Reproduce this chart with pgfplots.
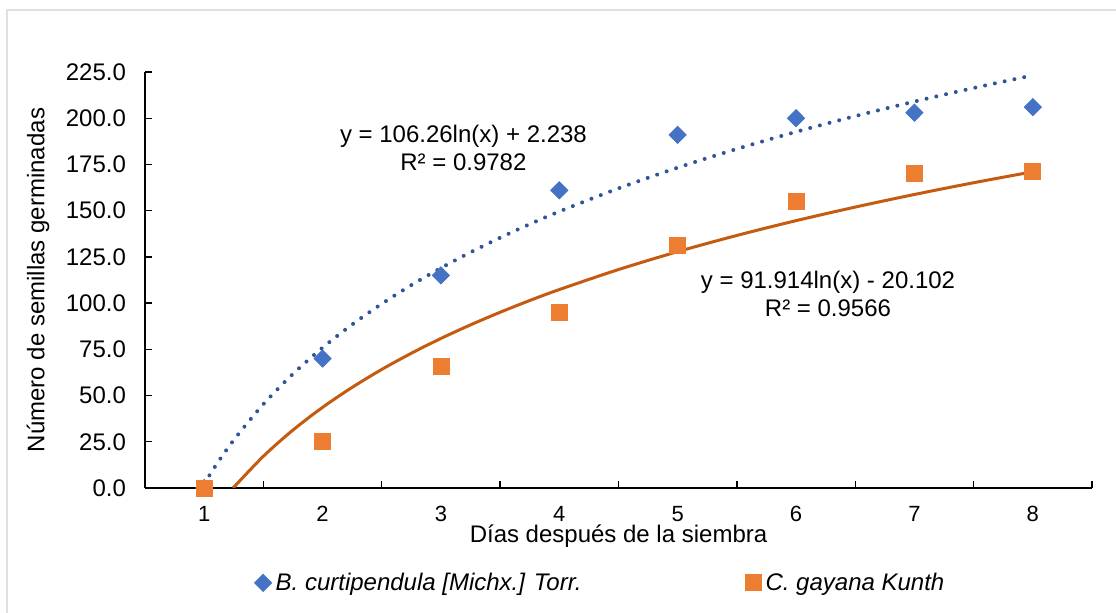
\documentclass[border=0pt]{standalone}
\usepackage{pgfplots}
\pgfplotsset{compat=1.18}
\usepackage{fontspec}
\setmainfont{Liberation Sans}

\definecolor{bluemark}{HTML}{4472C4}
\definecolor{bluetrend}{HTML}{2F5597}
\definecolor{orangemark}{HTML}{ED7D31}
\definecolor{orangetrend}{HTML}{C55A11}

\begin{document}
\begin{tikzpicture}
	% picture frame (1 px = 0.5 pt)
	\path[use as bounding box] (-72.5pt,-62.5pt) rectangle (485.5pt,244pt);
	\draw[black!12, line width=1.2pt] (-69pt,-62.5pt) -- (-69pt,239pt) -- (485.5pt,239pt);
	\begin{axis}[
	at={(0,0)}, anchor=origin,
	scale only axis,
	width=473.5pt, height=208pt,
	font=\fontsize{12}{14}\selectfont,
	axis x line=bottom, axis y line=left,
	axis line style={-, line width=0.8pt},
	xmin=0.5, xmax=8.5,
	ymin=0, ymax=225,
	xtick={1,...,8},
	major x tick style={draw=none},
	minor xtick={0.5,1.5,...,8.5},
	minor tick length=3.5pt,
	ytick={0,25,...,225},
	major tick length=3.5pt,
	tick align=inside,
	tick style={black, line width=0.7pt},
	/pgf/number format/assume math mode=true,
	yticklabel style={/pgf/number format/fixed, /pgf/number format/fixed zerofill,
		/pgf/number format/precision=1, xshift=-6pt},
	xticklabel style={yshift=-5.5pt, font=\fontsize{11}{13}\selectfont},
	xlabel={Días después de la siembra},
	ylabel={Número de semillas germinadas},
	xlabel style={at={(axis description cs:0.5,0)}, anchor=center, yshift=-24pt},
	ylabel style={at={(axis description cs:-0.113,0.5)}, anchor=center},
	legend style={at={(axis description cs:0.482,-0.228)}, anchor=center,
		draw=none, legend columns=2, font=\fontsize{12}{14}\selectfont\itshape,
		/tikz/every even column/.append style={column sep=80pt}},
	legend cell align=left,
	clip=true,
	]
	% trend lines (values of the displayed equations)
	\addplot[bluetrend, line width=2pt, line cap=round, dash pattern=on 0pt off 5pt, smooth, forget plot]
	coordinates {(1.00,2.24) (1.10,12.37) (1.25,25.95) (1.50,45.32) (1.75,61.70) (2.00,75.89)
		(2.25,88.41) (2.50,99.60) (2.75,109.73) (3.00,118.98) (3.25,127.48) (3.50,135.36)
		(3.75,142.69) (4.00,149.55) (4.50,162.06) (5.00,173.26) (5.50,183.38) (6.00,192.63)
		(6.50,201.14) (7.00,209.01) (7.50,216.34) (8.00,223.20)};
	\addplot[orangetrend, line width=1.5pt, smooth, forget plot]
	coordinates {(1.2445,0.00) (1.50,17.17) (1.75,31.34) (2.00,43.61) (2.25,54.43)
		(2.50,64.12) (2.75,72.88) (3.00,80.88) (3.25,88.23) (3.50,95.04) (3.75,101.39)
		(4.00,107.32) (4.50,118.14) (5.00,127.83) (5.50,136.59) (6.00,144.59)
		(6.50,151.94) (7.00,158.75) (7.50,165.10) (8.00,171.03)};
	% observed values
	\addplot[only marks, mark=diamond*, mark size=4.3pt, color=bluemark,
		mark options={xscale=1.33}]
	coordinates {(1,0) (2,70) (3,115) (4,161) (5,191) (6,200) (7,203) (8,206)};
	\addplot[only marks, mark=square*, mark size=4pt, color=orangemark]
	coordinates {(1,0) (2,25) (3,66) (4,95) (5,131) (6,155) (7,170) (8,171)};
	\legend{B. curtipendula [Michx.] Torr., C. gayana Kunth}
	\node[align=center, font=\fontsize{12}{14}\selectfont] at (axis cs:3.19,184) {y = 106.26ln(x) + 2.238\\R² = 0.9782};
	\node[align=center, font=\fontsize{12}{14}\selectfont] at (axis cs:6.27,105) {y = 91.914ln(x) - 20.102\\R² = 0.9566};
	\end{axis}
\end{tikzpicture}
\end{document}
